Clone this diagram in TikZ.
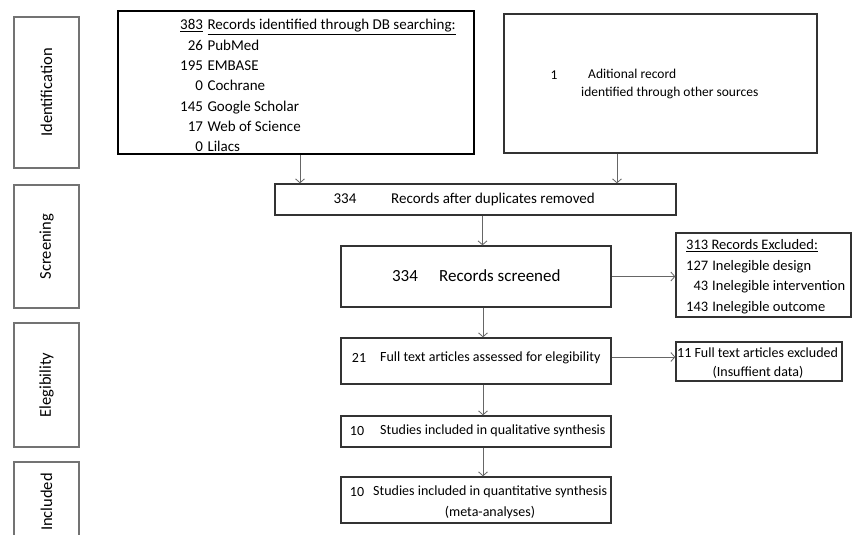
\documentclass[tikz,border=0pt]{standalone}
\usepackage{fontspec}
\setmainfont{Carlito}
\usetikzlibrary{arrows.meta}

\begin{document}
\begin{tikzpicture}[x=1pt, y=-1pt,
    box/.style={draw=black!80, line width=1.3pt, inner sep=0pt},
    stagebox/.style={draw=black!55, line width=1.1pt, inner sep=0pt, minimum width=65pt,
      font=\fontsize{16.5}{18}\selectfont},
    arr/.style={draw=black!60, line width=0.8pt, -{Straight Barb[length=4pt,width=9pt]}},
    txt/.style={inner sep=0pt, font=\fontsize{14}{17}\selectfont}]
    \useasboundingbox (0,0) rectangle (854,535);
    \clip (0,0) rectangle (854,535);
    % stages on the left
    \node[stagebox, minimum height=151pt] (ident) at (46.5,92.5) {\rotatebox{90}{Identification}};
    \node[stagebox, minimum height=123pt] (scrn) at (46.5,246.5) {\rotatebox{90}{Screening}};
    \node[stagebox, minimum height=124pt] (elgb) at (46.5,385) {\rotatebox{90}{Elegibility}};
    \node[stagebox, minimum height=80pt] (incl) at (46.5,502) {\rotatebox{90}{Included}};
    % boxes
    \node[box, line width=1.8pt, draw=black, minimum width=356pt, minimum height=143pt] (db) at (296,82.5) {};
    \node[box, minimum width=313pt, minimum height=139pt] (other) at (660.5,83.5) {};
    \node[box, minimum width=401pt, minimum height=31pt] (dup) at (475.5,199.5) {};
    \node[box, minimum width=270pt, minimum height=61pt] (screened) at (476,276.5) {};
    \node[box, minimum width=175pt, minimum height=84pt] (excl) at (763.5,275) {};
    \node[box, minimum width=270pt, minimum height=46pt] (assessed) at (476,361) {};
    \node[box, minimum width=166pt, minimum height=39pt] (insuf) at (759,361.5) {};
    \node[box, minimum width=270pt, minimum height=31pt] (qual) at (476,431.5) {};
    \node[box, minimum width=270pt, minimum height=46pt] (quant) at (476,500) {};
    % texts
    \node[txt, anchor=north west, font=\fontsize{15}{20.3}\selectfont] (dbtext) at (180,15.5) {%
      \begin{tabular}{@{}r@{\hspace{4.5pt}}l@{}}
        \underline{383} & \underline{Records identified through DB searching:}\\
        26 & PubMed\\
        195 & EMBASE\\
        0 & Cochrane\\
        145 & Google Scholar\\
        17 & Web of Science\\
        0 & Lilacs
      \end{tabular}};
    \node[txt, font=\fontsize{13.5}{16}\selectfont] (onenum) at (554,75) {1};
    \node[txt, anchor=west, font=\fontsize{13.5}{16}\selectfont] (addrec) at (588,74) {Aditional record};
    \node[txt, anchor=west, font=\fontsize{13.5}{16}\selectfont] (addsrc) at (581,93) {identified through other sources};
    \node[txt, font=\fontsize{15}{18}\selectfont] (dupnum) at (345,199) {334};
    \node[txt, anchor=west, font=\fontsize{15}{18}\selectfont] (duptext) at (391,199) {Records after duplicates removed};
    \node[txt, font=\fontsize{17}{20}\selectfont] (scrnum) at (405,276) {334};
    \node[txt, anchor=west, font=\fontsize{17}{20}\selectfont] (scrtext) at (439,276) {Records screened};
    \node[txt, anchor=north west, font=\fontsize{14.5}{20.6}\selectfont] (excltext) at (686,235) {%
      \begin{tabular}{@{}r@{\hspace{4pt}}l@{}}
        \multicolumn{2}{@{}l@{}}{\underline{313 Records Excluded:}}\\
        127 & Inelegible design\\
        43 & Inelegible intervention\\
        143 & Inelegible outcome
      \end{tabular}};
    \node[txt] (assnum) at (359,358) {21};
    \node[txt, anchor=west] (asstext) at (380,358) {Full text articles assessed for elegibility};
    \node[txt, anchor=west] (insuftext) at (677,353) {11 Full text articles excluded};
    \node[txt] (insufdata) at (758,372) {(Insuffient data)};
    \node[txt] (qualnum) at (357,431) {10};
    \node[txt, anchor=west] (qualtext) at (380,431) {Studies included in qualitative synthesis};
    \node[txt] (quantnum) at (357,492) {10};
    \node[txt, anchor=west] (quanttext) at (373,492) {Studies included in quantitative synthesis};
    \node[txt] (meta) at (490,513) {(meta-analyses)};
    % connectors
    \draw[arr] ([xshift=4pt]db.south) -- ([xshift=4pt]db.south |- dup.north);
    \draw[arr] ([xshift=-43.5pt]other.south) -- ([xshift=-43.5pt]other.south |- dup.north);
    \draw[arr] ([xshift=7pt]dup.south) -- ([xshift=7pt]dup.south |- screened.north);
    \draw[arr] (screened.east) -- (screened.east -| excl.west);
    \draw[arr] ([xshift=7pt]screened.south) -- ([xshift=7pt]screened.south |- assessed.north);
    \draw[arr] ([yshift=4pt]assessed.east) -- ([yshift=4pt]assessed.east -| insuf.west);
    \draw[arr] ([xshift=7pt]assessed.south) -- ([xshift=7pt]assessed.south |- qual.north);
    \draw[arr] ([xshift=7pt]qual.south) -- ([xshift=7pt]qual.south |- quant.north);
\end{tikzpicture}
\end{document}
